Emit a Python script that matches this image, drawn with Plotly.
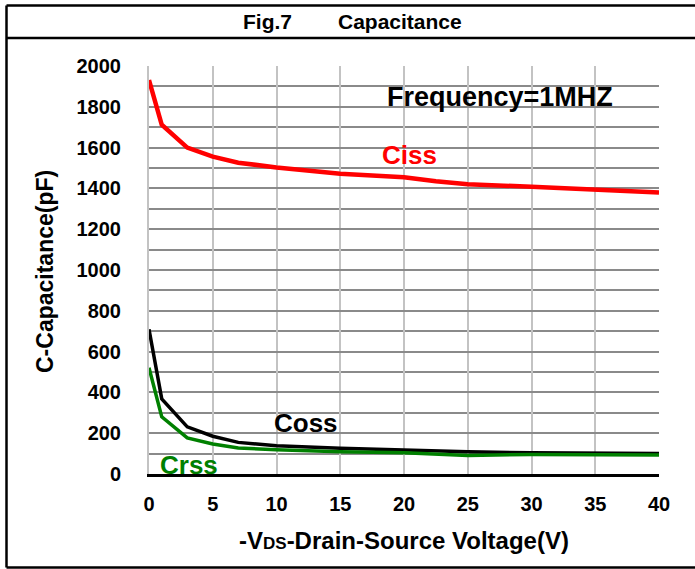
import plotly.graph_objects as go

# ---- data ----
vds_ciss = [0, 1, 3, 5, 7, 10, 15, 20, 22.5, 25, 30, 35, 40]
ciss = [1931, 1712, 1600, 1556, 1526, 1503, 1472, 1455, 1435, 1420, 1408, 1395, 1380]

vds_oss = [0, 1, 3, 5, 7, 10, 15, 20, 25, 30, 40]
coss = [709, 368, 231, 185, 155, 139, 126, 117, 109, 104, 101]

vds_rss = [0, 1, 3, 5, 7, 10, 15, 20, 25, 30, 40]
crss = [521, 280, 177, 147, 128, 119, 109, 104, 91, 96, 93]

x_ticks = [0, 5, 10, 15, 20, 25, 30, 35, 40]
y_ticks = [0, 200, 400, 600, 800, 1000, 1200, 1400, 1600, 1800, 2000]

NARROW = "Liberation Sans Narrow, Arial Narrow, Liberation Sans, Arial, sans-serif"
SANS = "Liberation Sans, Arial, sans-serif"

fig = go.Figure()
fig.add_trace(go.Scatter(x=vds_ciss, y=ciss, mode="lines", name="Ciss",
                         line=dict(color="#ff0000", width=4.5)))
fig.add_trace(go.Scatter(x=vds_oss, y=coss, mode="lines", name="Coss",
                         line=dict(color="#000000", width=3.5)))
fig.add_trace(go.Scatter(x=vds_rss, y=crss, mode="lines", name="Crss",
                         line=dict(color="#008000", width=3.5)))

W, H = 695, 569
L, R, T, B = 149, 36, 66, 95
pw, ph = W - L - R, H - T - B


def px(x):
    return (x - L) / pw


def py(y):
    return (H - B - y) / ph


fig.update_layout(
    width=W, height=H, autosize=False,
    margin=dict(l=L, r=R, t=T, b=B, pad=0),
    paper_bgcolor="white", plot_bgcolor="white",
    showlegend=False,
    xaxis=dict(range=[0, 40], tickvals=x_ticks, ticktext=[str(v) for v in x_ticks],
               showgrid=True, gridcolor="#c3c3c3", gridwidth=2,
               zeroline=False, showline=True, linecolor="#000000", linewidth=3,
               ticks="", ticklabelstandoff=10,
               tickfont=dict(family=NARROW, size=20, color="black", weight="bold")),
    yaxis=dict(range=[0, 2000], tickvals=y_ticks, ticktext=[str(v) for v in y_ticks],
               showgrid=True, gridcolor="#8a8a8a", gridwidth=2,
               minor=dict(dtick=100, tick0=0, showgrid=True, gridcolor="#8a8a8a", gridwidth=2),
               zeroline=False, showline=True, linecolor="#c3c3c3", linewidth=2,
               ticks="", ticklabelstandoff=22,
               tickfont=dict(family=NARROW, size=20, color="black", weight="bold")),
)

# frame (left, top, separator, bottom; open on the right edge)
frame = dict(color="black", width=2.5)
fig.add_shape(type="line", xref="paper", yref="paper",
              x0=px(6.5), x1=px(6.5), y0=py(567.5), y1=py(5.5), line=frame)
for yy in (5.5, 38, 567.5):
    fig.add_shape(type="line", xref="paper", yref="paper",
                  x0=px(6.5), x1=px(700), y0=py(yy), y1=py(yy), line=frame)

C = dict(xanchor="center", yanchor="middle", showarrow=False)
ann = []
ann.append(dict(text="Fig.7", xref="paper", yref="paper", x=px(267.5), y=py(22),
                font=dict(family=NARROW, size=21, color="black", weight="bold"), **C))
ann.append(dict(text="Capacitance", xref="paper", yref="paper", x=px(400), y=py(22),
                font=dict(family=NARROW, size=21, color="black", weight="bold"), **C))
ann.append(dict(text="C-Capacitance(pF)", xref="paper", yref="paper", x=px(45), y=py(272),
                textangle=-90,
                font=dict(family=NARROW, size=23, color="black", weight="bold"), **C))
ann.append(dict(text="-V<span style='font-size:17px'>DS</span>-Drain-Source Voltage(V)",
                xref="paper", yref="paper", x=px(404), y=py(540),
                font=dict(family=NARROW, size=24, color="black", weight="bold"), **C))
ann.append(dict(text="Frequency=1MHZ", x=27.5, y=1848, xref="x", yref="y",
                font=dict(family=SANS, size=27, color="black", weight="bold"), **C))
ann.append(dict(text="Ciss", x=20.4, y=1564, xref="x", yref="y",
                font=dict(family=SANS, size=26, color="#ff0000", weight="bold"), **C))
ann.append(dict(text="Coss", x=12.3, y=250, xref="x", yref="y",
                font=dict(family=SANS, size=26, color="black", weight="bold"), **C))
ann.append(dict(text="Crss", x=3.1, y=44, xref="x", yref="y",
                font=dict(family=SANS, size=26, color="#008000", weight="bold"), **C))
fig.update_layout(annotations=ann)

fig.write_html("out.html", config={"displayModeBar": False},
               post_script="document.body.style.margin='0';")
